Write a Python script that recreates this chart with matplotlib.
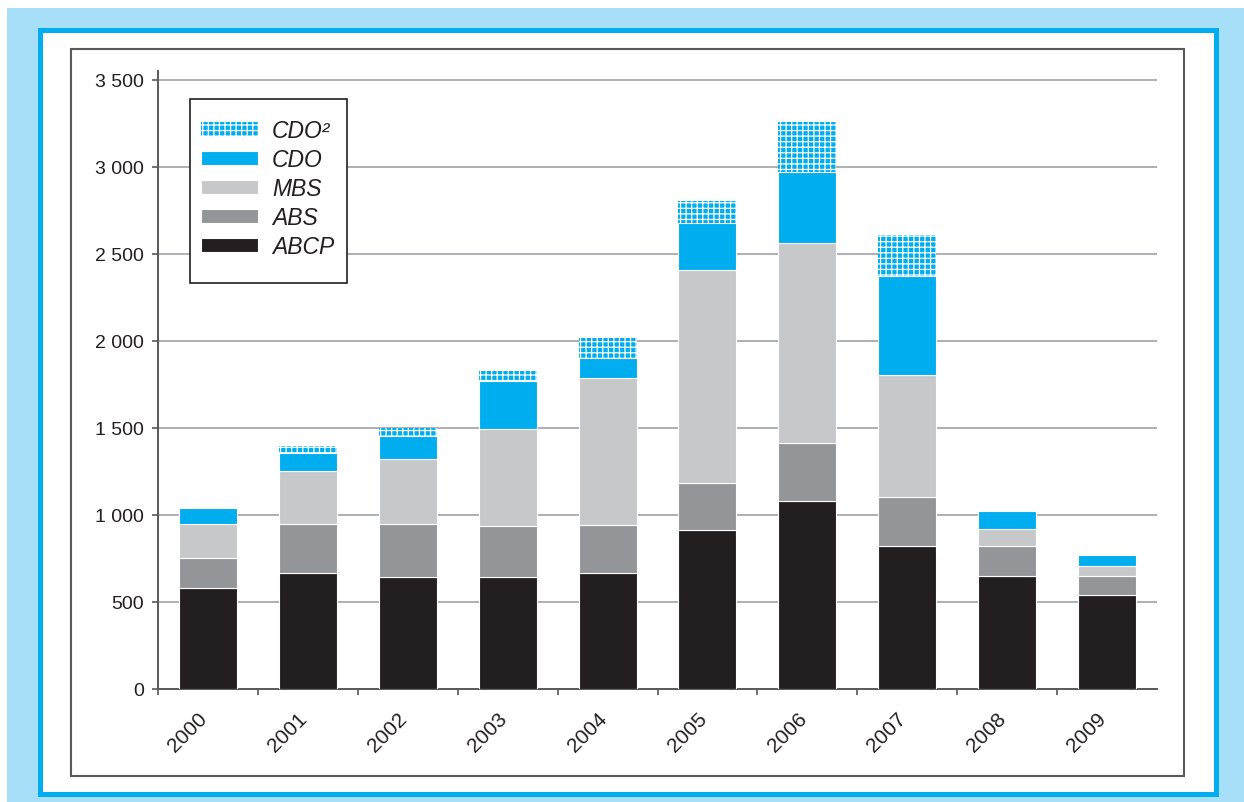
import numpy as np
import matplotlib
matplotlib.use("Agg")
import matplotlib.pyplot as plt
from matplotlib.patches import Rectangle
from matplotlib.ticker import FuncFormatter
import matplotlib.transforms as mtransforms

years = ["2000", "2001", "2002", "2003", "2004", "2005", "2006", "2007", "2008", "2009"]
abcp = [580, 667, 644, 644, 667, 914, 1080, 822, 649, 540]
abs_ = [173, 281, 304, 293, 276, 270, 334, 281, 173, 109]
mbs = [195, 305, 374, 557, 844, 1224, 1149, 702, 98, 58]
cdo = [92, 103, 132, 276, 115, 270, 408, 569, 103, 63]
cdo2 = [0, 41, 46, 58, 115, 127, 288, 235, 0, 0]
y_ticks = [0, 500, 1000, 1500, 2000, 2500, 3000, 3500]

plt.rcParams['font.family'] = ['Liberation Sans', 'DejaVu Sans']
plt.rcParams['hatch.linewidth'] = 0.9
text_col = '#231F20'

W, H = 1244, 803
fig = plt.figure(figsize=(W / 100, H / 100), dpi=100, facecolor='white')


def px_rect(x0, y0, x1, y1, **kw):
    return Rectangle((x0 / W, 1 - y1 / H), (x1 - x0) / W, (y1 - y0) / H,
                     transform=fig.transFigure, zorder=-5, **kw)


# frames round the chart
fig.add_artist(px_rect(7, 9, W, H, facecolor='#A8DFF8', edgecolor='none'))
fig.add_artist(px_rect(39.5, 30.5, 1215.5, 794.5, facecolor='white', edgecolor='#00AEEF', lw=3.6))
fig.add_artist(px_rect(70.5, 49.5, 1183.5, 777, facecolor='none', edgecolor='#58595B', lw=1.5))

ax = fig.add_axes([158 / W, 1 - 690 / H, 999 / W, 618 / H])
ax.set_facecolor('none')

x = np.arange(len(years))
w = 0.58
colors = ['#231F20', '#939598', '#C7C8CA', '#00AEEF']
names = ['ABCP', 'ABS', 'MBS', 'CDO']
bottom = np.zeros(len(years))
handles = []
for vals, col, name in zip([abcp, abs_, mbs, cdo], colors, names):
    b = ax.bar(x, vals, w, bottom=bottom, color=col, edgecolor='white', lw=0.8, label=name, zorder=3)
    handles.append(b)
    bottom += np.array(vals)
b = ax.bar(x, cdo2, w, bottom=bottom, color='#00AEEF', edgecolor='white', lw=0.0,
           hatch='+++', label='CDO²', zorder=3)
handles.append(b)

ax.set_xlim(-0.5, 9.5)
ax.set_ylim(0, 3550)
ax.set_yticks(y_ticks)
ax.yaxis.set_major_formatter(FuncFormatter(lambda v, p: f'{int(v):,}'.replace(',', ' ')))
ax.grid(axis='y', color='#A7A9AC', lw=1.3, zorder=0)
ax.set_axisbelow(True)

for s in ['top', 'right']:
    ax.spines[s].set_visible(False)
for s in ['left', 'bottom']:
    ax.spines[s].set_color('#58595B')
    ax.spines[s].set_linewidth(1.4)

ax.tick_params(axis='y', length=4.3, width=1.2, color='#58595B', pad=6,
               labelsize=14, labelcolor=text_col)
ax.set_xticks(x)
ax.set_xticklabels(years, rotation=45, ha='right', va='top')
ax.set_xticks(np.arange(-0.5, 9, 1), minor=True)
ax.tick_params(axis='x', which='major', length=0, pad=14, labelsize=15, labelcolor=text_col)
ax.tick_params(axis='x', which='minor', length=4.3, width=1.2, color='#58595B')
offset = mtransforms.ScaledTranslation(0.03, 0, fig.dpi_scale_trans)
for lab in ax.get_xticklabels():
    lab.set_transform(lab.get_transform() + offset)

# legend box drawn by hand so its padding can match
ax.add_patch(Rectangle((32 / 999, 406 / 618), 157 / 999, 184 / 618, transform=ax.transAxes,
                       facecolor='white', edgecolor='#231F20', lw=1.2, zorder=4))
leg = ax.legend(handles[::-1], ['CDO²', 'CDO', 'MBS', 'ABS', 'ABCP'],
                loc='center left', bbox_to_anchor=(43 / 999, 500.5 / 618), borderaxespad=0,
                frameon=False, prop={'style': 'italic', 'size': 16.5},
                handlelength=2.5, handleheight=0.57, labelspacing=0.26,
                handletextpad=0.6, borderpad=0)
leg.set_zorder(5)
for t in leg.get_texts():
    t.set_color(text_col)

fig.savefig('out.png', dpi=100, facecolor=fig.get_facecolor())
